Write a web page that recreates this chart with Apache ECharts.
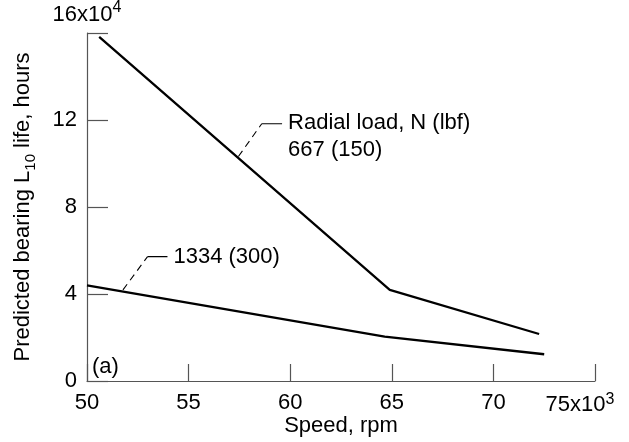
<!DOCTYPE html>
<html>
<head>
<meta charset="utf-8">
<script src="https://cdn.jsdelivr.net/npm/echarts@6/dist/echarts.min.js"></script>
<style>html,body{margin:0;padding:0;background:#fff;}#c{width:629px;height:442px;}</style>
</head>
<body>
<div id="c"></div>
<script>
// Data (speed in 10^3 rpm, life in 10^4 hours)
var load667 = [[50.6, 15.82], [64.9, 4.19], [72.25, 2.16]];
var load1334 = [[50.0, 4.40], [64.65, 2.04], [72.5, 1.23]];
var xTicks = [50, 55, 60, 65, 70, 75];
var yTicks = [0, 4, 8, 12, 16];
// annotation leaders
var lead667Dash = [[57.45, 10.32], [58.6, 11.83]];
var lead667Solid = [[58.6, 11.83], [59.6, 11.83]];
var lead1334Dash = [[51.77, 4.19], [52.98, 5.72]];
var lead1334Solid = [[52.98, 5.72], [53.96, 5.72]];

var FONT = 'Liberation Sans';
var FS = 22;
var axisCol = '#555';

var chart = echarts.init(document.getElementById('c'));
chart.setOption({
  animation: false,
  backgroundColor: '#fff',
  textStyle: {fontFamily: FONT},
  grid: {left: 87, right: 34, top: 33, bottom: 61, containLabel: false, outerBoundsMode: 'none'},
  xAxis: {
    type: 'value', min: xTicks[0], max: xTicks[xTicks.length - 1], interval: 5,
    name: 'Speed, rpm', nameLocation: 'middle', nameGap: 34, nameMoveOverlap: false,
    nameTextStyle: {fontFamily: FONT, fontSize: FS, color: '#000'},
    axisLine: {lineStyle: {color: axisCol, width: 1.2}},
    axisTick: {inside: true, length: 17, lineStyle: {color: axisCol, width: 1.2}},
    splitLine: {show: false},
    axisLabel: {
      margin: 11, color: '#000', fontFamily: FONT, fontSize: FS,
      formatter: function (v) { return v === 75 ? '{a|75x10}{s|3}' : String(v); },
      rich: {
        a: {fontFamily: FONT, fontSize: FS, color: '#000', lineHeight: 26},
        s: {fontFamily: FONT, fontSize: 16, color: '#000', verticalAlign: 'top', lineHeight: 26, padding: [0, 30, 0, 0]}
      }
    }
  },
  yAxis: [{
    type: 'value', min: 0, max: 16, interval: 4, position: 'left',
    name: '{t|Predicted bearing L}{sub|10}{t| life, hours}',
    nameLocation: 'middle', nameGap: 49, nameRotate: 90, nameMoveOverlap: false,
    nameTextStyle: {
      fontFamily: FONT, fontSize: FS, color: '#000',
      rich: {
        t: {fontFamily: FONT, fontSize: FS, color: '#000', lineHeight: 30},
        sub: {fontFamily: FONT, fontSize: 15, color: '#000', verticalAlign: 'bottom', lineHeight: 30}
      }
    },
    axisLine: {lineStyle: {color: axisCol, width: 1.2}},
    axisTick: {inside: true, length: 21, lineStyle: {color: axisCol, width: 1.2}},
    splitLine: {show: false},
    axisLabel: {
      margin: 10, color: '#000', fontFamily: FONT, fontSize: FS,
      formatter: function (v) { return v === 16 ? '' : String(v); }
    }
  }, {
    type: 'value', min: 0, max: 16, interval: 4, position: 'left', offset: 0,
    name: '{a|16x10}{s|4}', nameLocation: 'end', nameGap: 3, nameMoveOverlap: false,
    nameTextStyle: {
      fontFamily: FONT, fontSize: FS, color: '#000',
      rich: {
        a: {fontFamily: FONT, fontSize: FS, color: '#000', lineHeight: 30},
        s: {fontFamily: FONT, fontSize: 16, color: '#000', verticalAlign: 'top', lineHeight: 30}
      }
    },
    axisLine: {show: false}, axisTick: {show: false}, axisLabel: {show: false}, splitLine: {show: false}
  }],
  graphic: [{
    type: 'text', left: 92, top: 356,
    style: {text: '(a)', fontFamily: FONT, fontSize: FS, fill: '#000'}
  }],
  series: [
    {type: 'line', data: load667, symbol: 'none', lineStyle: {color: '#000', width: 2.3}, clip: false},
    {type: 'line', data: load1334, symbol: 'none', lineStyle: {color: '#000', width: 2.3}, clip: false},
    {type: 'line', data: lead667Dash, symbol: 'none', lineStyle: {color: '#000', width: 1.1, type: [7, 5]}},
    {type: 'line', data: lead667Solid, symbol: 'none', lineStyle: {color: '#000', width: 1.1},
      endLabel: {show: true, distance: 6, offset: [0, 13], fontFamily: FONT, fontSize: FS, color: '#000', lineHeight: 27,
        formatter: 'Radial load, N (lbf)\n667 (150)'}},
    {type: 'line', data: lead1334Dash, symbol: 'none', lineStyle: {color: '#000', width: 1.1, type: [7, 5]}},
    {type: 'line', data: lead1334Solid, symbol: 'none', lineStyle: {color: '#000', width: 1.1},
      endLabel: {show: true, distance: 6, fontFamily: FONT, fontSize: FS, color: '#000',
        formatter: '1334 (300)'}}
  ]
});
</script>
</body>
</html>
